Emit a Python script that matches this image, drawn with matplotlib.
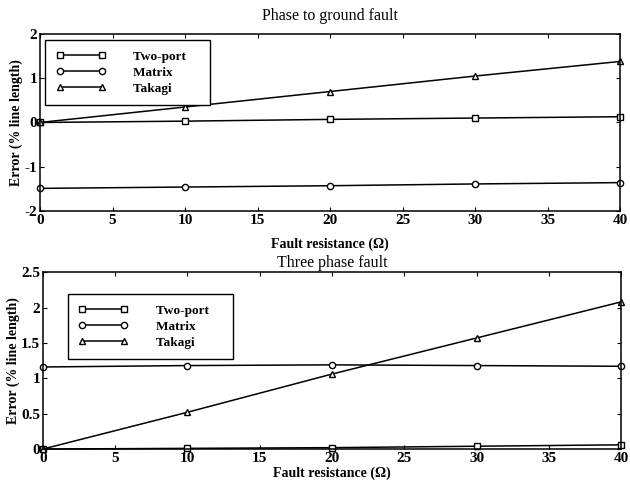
import numpy as np
import matplotlib
matplotlib.use("Agg")
import matplotlib.pyplot as plt
from matplotlib.ticker import FuncFormatter

plt.rcParams['font.family'] = ['Liberation Serif', 'DejaVu Serif']

# Fault resistance (ohm)
resistance = [0, 10, 20, 30, 40]
series_names = ["Two-port", "Matrix", "Takagi"]
markers = ['s', 'o', '^']

# Phase to ground fault, error in % line length
ground_two_port = [0.00, 0.03, 0.07, 0.10, 0.13]
ground_matrix = [-1.49, -1.46, -1.43, -1.39, -1.36]
ground_takagi = [0.00, 0.35, 0.70, 1.05, 1.38]

# Three phase fault, error in % line length
three_two_port = [0.00, 0.01, 0.02, 0.04, 0.06]
three_matrix = [1.16, 1.18, 1.19, 1.18, 1.17]
three_takagi = [0.00, 0.52, 1.06, 1.57, 2.08]


def num_fmt(v, pos):
    return "%g" % v


def plot_panel(ax, data, title, yticks, legend_box, title_pad, xlabel_pad):
    """ Draws one panel with the three locator methods. """
    handles = list()
    for values, name, mk in zip(data, series_names, markers):
        h, = ax.plot(resistance, values, color='black', lw=1.1, marker=mk,
                     ms=4.5, mfc='white', mec='black', mew=1.0,
                     clip_on=False)
        handles.append(h)
    ax.set_xlim(0, 40)
    ax.set_xticks(np.arange(0, 41, 5))
    ax.set_ylim(yticks[0], yticks[-1])
    ax.set_yticks(yticks)
    ax.yaxis.set_major_formatter(FuncFormatter(num_fmt))
    ax.tick_params(direction='in', top=True, right=True, length=3,
                   labelsize=11, pad=2)
    for lab in ax.get_xticklabels() + ax.get_yticklabels():
        lab.set_fontweight('bold')
    for sp in ax.spines.values():
        sp.set_linewidth(1.1)
    ax.set_title(title, fontsize=11.5, pad=title_pad)
    ax.set_xlabel(u"Fault resistance (\u03a9)", fontsize=10,
                  fontweight='bold', labelpad=xlabel_pad)
    ax.set_ylabel("Error (% line length)", fontsize=10, fontweight='bold',
                  labelpad=1)
    # Trailing spaces keep the box as wide as in the original.
    labels = [n + "    " for n in series_names]
    leg = ax.legend(handles, labels, loc='upper left',
                    bbox_to_anchor=legend_box, borderaxespad=0,
                    numpoints=2, handlelength=3.8, handletextpad=2.1,
                    frameon=True, fancybox=False, borderpad=0.8,
                    labelspacing=0.28, prop={'weight': 'bold', 'size': 9.5})
    leg.get_frame().set_edgecolor('black')
    leg.get_frame().set_linewidth(1.0)
    leg.get_frame().set_alpha(1)


fig = plt.figure(figsize=(6.3, 4.86), dpi=100)
ax1 = fig.add_axes([0.0635, 0.566, 0.921, 0.364])
ax2 = fig.add_axes([0.068, 0.076, 0.918, 0.364])

plot_panel(ax1, [ground_two_port, ground_matrix, ground_takagi],
           "Phase to ground fault", [-2, -1, 0, 1, 2], (0.0086, 0.966),
           10, 8)
plot_panel(ax2, [three_two_port, three_matrix, three_takagi],
           "Three phase fault", [0, 0.5, 1, 1.5, 2, 2.5], (0.043, 0.876),
           4, 1)

fig.savefig("out.png", dpi=100)
